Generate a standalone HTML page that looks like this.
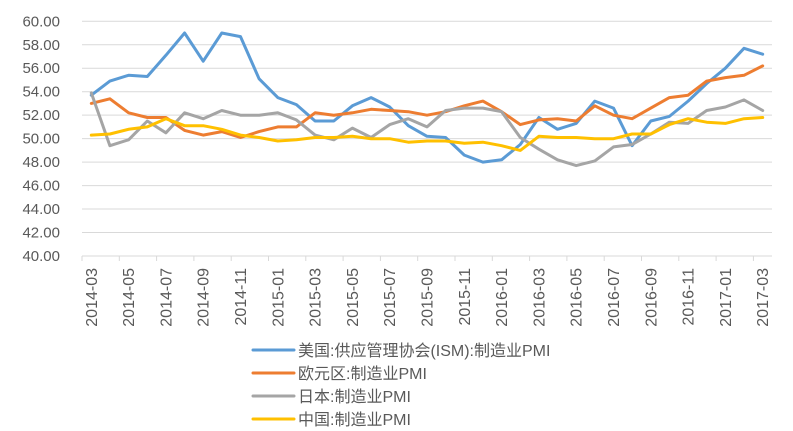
<!DOCTYPE html><html><head><meta charset="utf-8"><style>body{margin:0;background:#fff}svg{display:block}text{font-family:"Liberation Sans","Noto Sans CJK SC",sans-serif;fill:#595959}</style></head><body>
<svg width="793" height="431" id="s"></svg>
<script>
const s=document.getElementById('s');let h='';
const Y=v=>21.3+(60-v)*11.735, X=i=>91.3+18.65*i;
for(let v=40;v<=60;v+=2){h+=`<line x1="82" x2="772" y1="${Y(v)}" y2="${Y(v)}" stroke="#d9d9d9" stroke-width="1"/>`;h+=`<text x="60" y="${Y(v)+5}" font-size="15" text-anchor="end">${v.toFixed(2)}</text>`;}
for(let i=0;i<=37;i+=2)h+=`<line x1="${82+18.65*i}" x2="${82+18.65*i}" y1="${Y(40)}" y2="${Y(40)+5}" stroke="#d9d9d9"/>`;
const m=[];for(let i=0;i<37;i++){const t=2+i;const y=2014+Math.floor(t/12),mo=t%12+1;m.push(y+'-'+String(mo).padStart(2,'0'));}
for(let i=0;i<37;i+=2)h+=`<text transform="translate(${X(i)+5.5},268) rotate(-90)" font-size="16" text-anchor="end">${m[i]}</text>`;
const D=[
["#5b9bd5",[53.7,54.9,55.4,55.3,57.1,59.0,56.6,59.0,58.7,55.1,53.5,52.9,51.5,51.5,52.8,53.5,52.7,51.1,50.2,50.1,48.6,48.0,48.2,49.5,51.8,50.8,51.3,53.2,52.6,49.4,51.5,51.9,53.2,54.7,56.0,57.7,57.2]],
["#ed7d31",[53.0,53.4,52.2,51.8,51.8,50.7,50.3,50.6,50.1,50.6,51.0,51.0,52.2,52.0,52.2,52.5,52.4,52.3,52.0,52.3,52.8,53.2,52.3,51.2,51.6,51.7,51.5,52.8,52.0,51.7,52.6,53.5,53.7,54.9,55.2,55.4,56.2]],
["#a5a5a5",[53.9,49.4,49.9,51.5,50.5,52.2,51.7,52.4,52.0,52.0,52.2,51.6,50.3,49.9,50.9,50.1,51.2,51.7,51.0,52.4,52.6,52.6,52.3,50.1,49.1,48.2,47.7,48.1,49.3,49.5,50.4,51.4,51.3,52.4,52.7,53.3,52.4]],
["#ffc000",[50.3,50.4,50.8,51.0,51.7,51.1,51.1,50.8,50.3,50.1,49.8,49.9,50.1,50.1,50.2,50.0,50.0,49.7,49.8,49.8,49.6,49.7,49.4,49.0,50.2,50.1,50.1,50.0,50.0,50.4,50.4,51.2,51.7,51.4,51.3,51.7,51.8]]];
for(const k of [0,1,2,3]){const [c,d]=D[k];h+=`<polyline fill="none" stroke="${c}" stroke-width="3" stroke-linejoin="round" stroke-linecap="round" points="${d.map((v,i)=>X(i).toFixed(1)+','+Y(v).toFixed(1)).join(' ')}"/>`;}
const L=["美国:供应管理协会(ISM):制造业PMI","欧元区:制造业PMI","日本:制造业PMI","中国:制造业PMI"];
L.forEach((t,i)=>{const y=350+23*i;h+=`<line x1="253" x2="294" y1="${y}" y2="${y}" stroke="${D[i][0]}" stroke-width="3" stroke-linecap="round"/><text x="298" y="${y+6}" font-size="16">${t}</text>`;});
s.innerHTML=h;
</script></body></html>
